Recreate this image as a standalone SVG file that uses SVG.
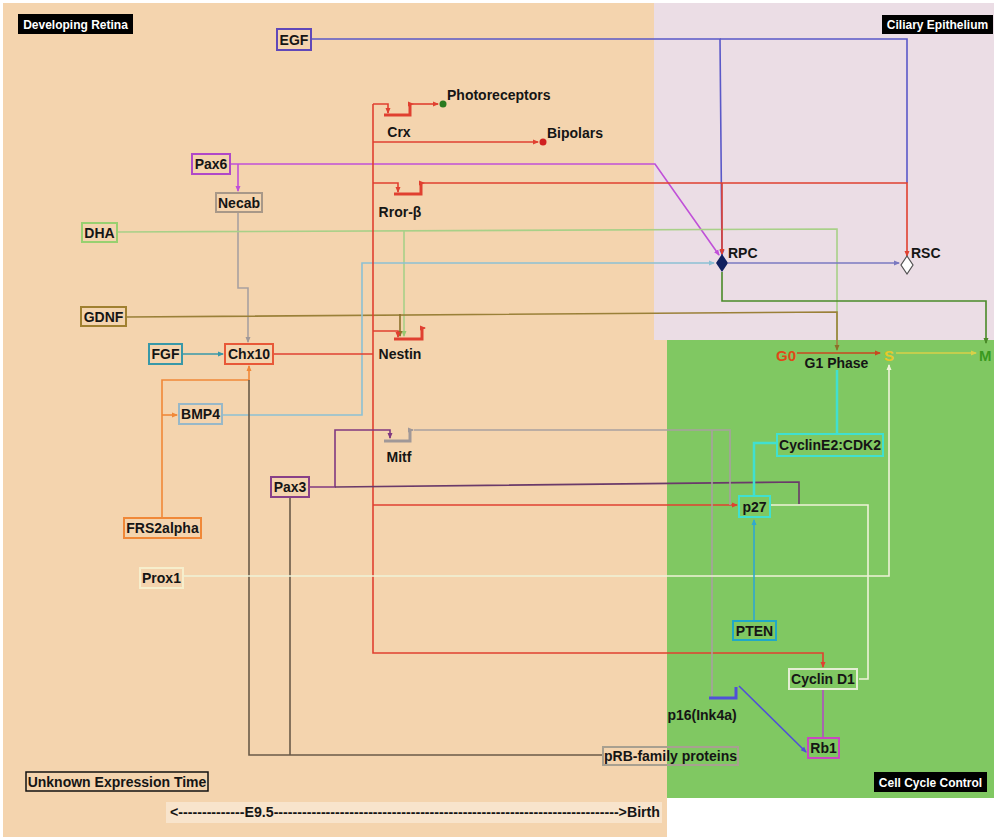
<svg xmlns="http://www.w3.org/2000/svg" width="994" height="839" viewBox="0 0 994 839">
<style>
text{font-family:"Liberation Sans",Arial,sans-serif;font-weight:bold}
.lbl{font-size:14px;fill:#151515;text-anchor:middle}
.lbl.st{text-anchor:start}
.node{fill:none;stroke-width:2}
.hdr{font-size:12px;fill:#fff;text-anchor:middle}
.ln{fill:none;stroke-width:1.6}
.bar{fill:none;stroke-width:3}
</style>
<defs>
<marker id="aRed" markerWidth="6" markerHeight="6" refX="5" refY="3" orient="auto" markerUnits="userSpaceOnUse"><path d="M0,0.5 L6,3 L0,5.5z" fill="#e04030"/></marker>
<marker id="aMag" markerWidth="6" markerHeight="6" refX="5" refY="3" orient="auto" markerUnits="userSpaceOnUse"><path d="M0,0.5 L6,3 L0,5.5z" fill="#c050d8"/></marker>
<marker id="aBlue" markerWidth="6" markerHeight="6" refX="5" refY="3" orient="auto" markerUnits="userSpaceOnUse"><path d="M0,0.5 L6,3 L0,5.5z" fill="#5a58c8"/></marker>
<marker id="aLblue" markerWidth="6" markerHeight="6" refX="5" refY="3" orient="auto" markerUnits="userSpaceOnUse"><path d="M0,0.5 L6,3 L0,5.5z" fill="#8cc0d4"/></marker>
<marker id="aTeal" markerWidth="6" markerHeight="6" refX="5" refY="3" orient="auto" markerUnits="userSpaceOnUse"><path d="M0,0.5 L6,3 L0,5.5z" fill="#3898a8"/></marker>
<marker id="aOr" markerWidth="6" markerHeight="6" refX="5" refY="3" orient="auto" markerUnits="userSpaceOnUse"><path d="M0,0.5 L6,3 L0,5.5z" fill="#f08838"/></marker>
<marker id="aGray" markerWidth="6" markerHeight="6" refX="5" refY="3" orient="auto" markerUnits="userSpaceOnUse"><path d="M0,0.5 L6,3 L0,5.5z" fill="#a09898"/></marker>
<marker id="aDg" markerWidth="6" markerHeight="6" refX="5" refY="3" orient="auto" markerUnits="userSpaceOnUse"><path d="M0,0.5 L6,3 L0,5.5z" fill="#4a8a28"/></marker>
<marker id="aYel" markerWidth="6" markerHeight="6" refX="5" refY="3" orient="auto" markerUnits="userSpaceOnUse"><path d="M0,0.5 L6,3 L0,5.5z" fill="#d8d048"/></marker>
<marker id="aRb" markerWidth="6" markerHeight="6" refX="5" refY="3" orient="auto" markerUnits="userSpaceOnUse"><path d="M0,0.5 L6,3 L0,5.5z" fill="#c84820"/></marker>
<marker id="aPale" markerWidth="6" markerHeight="6" refX="5" refY="3" orient="auto" markerUnits="userSpaceOnUse"><path d="M0,0.5 L6,3 L0,5.5z" fill="#eef2d8"/></marker>
<marker id="aCyan" markerWidth="6" markerHeight="6" refX="5" refY="3" orient="auto" markerUnits="userSpaceOnUse"><path d="M0,0.5 L6,3 L0,5.5z" fill="#30a8d0"/></marker>
<marker id="aOl" markerWidth="6" markerHeight="6" refX="5" refY="3" orient="auto" markerUnits="userSpaceOnUse"><path d="M0,0.5 L6,3 L0,5.5z" fill="#8a7028"/></marker>
<marker id="aLg" markerWidth="6" markerHeight="6" refX="5" refY="3" orient="auto" markerUnits="userSpaceOnUse"><path d="M0,0.5 L6,3 L0,5.5z" fill="#98c870"/></marker>
<marker id="aPur" markerWidth="6" markerHeight="6" refX="5" refY="3" orient="auto" markerUnits="userSpaceOnUse"><path d="M0,0.5 L6,3 L0,5.5z" fill="#803880"/></marker>
<marker id="aSl" markerWidth="6" markerHeight="6" refX="5" refY="3" orient="auto" markerUnits="userSpaceOnUse"><path d="M0,0.5 L6,3 L0,5.5z" fill="#7a78c0"/></marker>
<marker id="aP16" markerWidth="6" markerHeight="6" refX="5" refY="3" orient="auto" markerUnits="userSpaceOnUse"><path d="M0,0.5 L6,3 L0,5.5z" fill="#5050d8"/></marker>
</defs>

<g id="background">
<rect x="0" y="0" width="994" height="839" fill="#ffffff"/>
<rect x="3" y="3" width="664" height="834" fill="#f4d4ae"/>
<rect x="654" y="3" width="340" height="337" fill="#ebdde5"/>
<rect x="667" y="340" width="327" height="458" fill="#80c862"/>
</g>

<g id="region-labels">
<rect x="18" y="14" width="115" height="20" fill="#000"/>
<text class="hdr" x="75.5" y="28.5">Developing Retina</text>
<rect x="882" y="15" width="111" height="19" fill="#000"/>
<text class="hdr" x="937.5" y="29">Ciliary Epithelium</text>
<rect x="874" y="772" width="113" height="20" fill="#000"/>
<text class="hdr" x="930.5" y="786.5">Cell Cycle Control</text>
<rect x="26" y="772" width="182" height="19" fill="none" stroke="#111" stroke-width="1.5"/>
<text class="lbl" x="117" y="787">Unknown Expression Time</text>
<rect x="166" y="802" width="496" height="21" fill="#f8e4cc"/>
<text x="170" y="817" font-size="14" fill="#151515" textLength="490" lengthAdjust="spacingAndGlyphs">&lt;--------------E9.5-------------------------------------------------------------------------&gt;Birth</text>
</g>

<g id="connectors">
<path class="ln" stroke="#5a58c8" d="M311,39 H720 L722,255" marker-end="url(#aBlue)"/>
<path class="ln" stroke="#5a58c8" d="M720,39 H907 V183"/>
<path class="ln" stroke="#c050d8" d="M230,164 H655 L719,255" marker-end="url(#aMag)"/>
<path class="ln" stroke="#c050d8" d="M238,164 V191" marker-end="url(#aMag)"/>
<path class="ln" stroke="#a8a0a0" d="M238,212 V288 H248 V342" marker-end="url(#aGray)"/>
<path class="ln" stroke="#a8d088" d="M117,232 L837,229 V350" marker-end="url(#aLg)"/>
<path class="ln" stroke="#a8d088" d="M404,231 V336" marker-end="url(#aLg)"/>
<path class="ln" stroke="#9a8038" d="M126,317 L837,312 V350" marker-end="url(#aOl)"/>
<path class="ln" stroke="#8a7028" d="M400,314 V336" marker-end="url(#aOl)"/>
<path class="ln" stroke="#3898a8" d="M182,354 H223" marker-end="url(#aTeal)"/>
<path class="ln" stroke="#8cc0d4" d="M222,415 H362 V263 H714" marker-end="url(#aLblue)"/>
<path class="ln" stroke="#f08838" d="M162,518 V380 H249 V366" marker-end="url(#aOr)"/>
<path class="ln" stroke="#f08838" d="M162,415 H177" marker-end="url(#aOr)"/>
<path class="ln" stroke="#6a5a48" d="M249,380 V755 H603"/>
<path class="ln" stroke="#6a5a48" d="M290,497 V755"/>
<path class="ln" stroke="#e04030" d="M273,354 H373"/>
<path class="ln" stroke="#e04030" d="M373,104 V653 H823 V667" marker-end="url(#aRed)"/>
<path class="ln" stroke="#e04030" d="M373,104 H388 V113" marker-end="url(#aRed)"/>
<path class="ln" stroke="#e04030" d="M373,142 H538" marker-end="url(#aRed)"/>
<path class="ln" stroke="#e04030" d="M373,183 H398 V192" marker-end="url(#aRed)"/>
<path class="ln" stroke="#e04030" d="M373,331 H398 V337" marker-end="url(#aRed)"/>
<path class="ln" stroke="#e04030" d="M373,505 H737" marker-end="url(#aRed)"/>
<path class="ln" stroke="#e04030" d="M413,104 H438" marker-end="url(#aRed)"/>
<path class="ln" stroke="#e04030" d="M424,183 H907 V256" marker-end="url(#aRed)"/>
<path class="ln" stroke="#e04030" d="M722,183 V254" marker-end="url(#aRed)"/>
<path class="ln" stroke="#803880" d="M309,487 H335 V430 H390 V438" marker-end="url(#aPur)"/>
<path class="ln" stroke="#6a3a6a" d="M335,487 L799,482 V504"/>
<path class="ln" stroke="#a8a0a0" d="M414,430 H730 V505"/>
<path class="ln" stroke="#a8a0a0" d="M712,430 V696"/>
<path class="ln" stroke="#7a78c0" d="M728,263 H899" marker-end="url(#aSl)"/>
<path class="ln" stroke="#4a8a28" d="M722,272 V301 H986 V343" marker-end="url(#aDg)"/>
<path class="ln" stroke="#c84820" d="M797,353 H880" marker-end="url(#aRb)"/>
<path class="ln" stroke="#d8d048" d="M896,353 H976" marker-end="url(#aYel)"/>
<path class="ln" stroke="#eef2d8" d="M183,576 H889 V365" marker-end="url(#aPale)"/>
<path stroke="#40e0d0" stroke-width="2.5" fill="none" d="M837,434 V370"/>
<path stroke="#40e0d0" stroke-width="2.5" fill="none" d="M777,443 H754 V496"/>
<path class="ln" stroke="#30a8d0" d="M754,621 V520" marker-end="url(#aCyan)"/>
<path class="ln" stroke="#eef2d8" d="M770,505 H868 V679 H859"/>
<path class="ln" stroke="#b050c0" d="M823,689 V738"/>
<path class="ln" stroke="#5050d8" d="M739,686 L806,752" marker-end="url(#aP16)"/>
</g>

<g id="Crx">
<path class="bar" stroke="#e04030" d="M384,115 H410 V104"/>
<path stroke="#e04030" stroke-width="1.5" d="M410,104 H413" marker-end="url(#aRed)"/>
<text class="lbl" x="399" y="137">Crx</text>
</g>
<g id="Photoreceptors">
<circle cx="443" cy="104" r="3.5" fill="#2a7a20"/>
<text class="lbl st" x="447" y="100">Photoreceptors</text>
</g>
<g id="Bipolars">
<circle cx="543" cy="142" r="3.5" fill="#d02020"/>
<text class="lbl st" x="547" y="138">Bipolars</text>
</g>
<g id="Rror-beta">
<path class="bar" stroke="#e04030" d="M394,194 H421 V183"/>
<path stroke="#e04030" stroke-width="1.5" d="M421,183 H424" marker-end="url(#aRed)"/>
<text class="lbl" x="400" y="217">Rror-β</text>
</g>
<g id="Nestin">
<path class="bar" stroke="#e04030" d="M394,339 H422 V328"/>
<path stroke="#e04030" stroke-width="1.5" d="M422,328 H425" marker-end="url(#aRed)"/>
<text class="lbl" x="400" y="359">Nestin</text>
</g>
<g id="Mitf">
<path class="bar" stroke="#a09898" stroke-width="2" d="M384,441 H410 V430"/>
<path stroke="#a09898" stroke-width="1.5" d="M410,430 H413" marker-end="url(#aGray)"/>
<text class="lbl" x="399" y="462">Mitf</text>
</g>
<g id="p16">
<path class="bar" stroke="#5050d8" d="M709,698 H736 V687"/>
<text class="lbl" x="702" y="720">p16(Ink4a)</text>
</g>

<g id="EGF"><rect class="node" x="277" y="29" width="34" height="21" stroke="#6048b8"/><text class="lbl" x="294" y="45">EGF</text></g>
<g id="Pax6"><rect class="node" x="192" y="154" width="38" height="20" stroke="#b048c8"/><text class="lbl" x="211" y="169">Pax6</text></g>
<g id="Necab"><rect class="node" x="216" y="193" width="46" height="19" stroke="#a89888"/><text class="lbl" x="239" y="208">Necab</text></g>
<g id="DHA"><rect class="node" x="82" y="223" width="35" height="19" stroke="#98d070"/><text class="lbl" x="99.5" y="238">DHA</text></g>
<g id="GDNF"><rect class="node" x="81" y="307" width="45" height="19" stroke="#a08030"/><text class="lbl" x="103.5" y="322">GDNF</text></g>
<g id="FGF"><rect class="node" x="149" y="344" width="33" height="20" stroke="#3898a8"/><text class="lbl" x="165.5" y="359">FGF</text></g>
<g id="Chx10"><rect class="node" x="225" y="344" width="48" height="20" stroke="#e85838"/><text class="lbl" x="249" y="359">Chx10</text></g>
<g id="BMP4"><rect class="node" x="179" y="404" width="43" height="20" stroke="#98b8c8"/><text class="lbl" x="200.5" y="419">BMP4</text></g>
<g id="Pax3"><rect class="node" x="271" y="477" width="38" height="20" stroke="#884088"/><text class="lbl" x="290" y="492">Pax3</text></g>
<g id="FRS2alpha"><rect class="node" x="124" y="518" width="77" height="20" stroke="#f08838"/><text class="lbl" x="162.5" y="533">FRS2alpha</text></g>
<g id="Prox1"><rect class="node" x="140" y="568" width="43" height="20" stroke="#f6eecc" fill="#f8e6c4"/><text class="lbl" x="161.5" y="583">Prox1</text></g>
<g id="pRB"><rect class="node" x="603" y="747" width="135" height="18" stroke="#a8a090"/><text class="lbl" x="670.5" y="761">pRB-family proteins</text></g>
<g id="RPC"><polygon points="722,254 728,263 722,272 716,263" fill="#102060"/><text class="lbl st" x="728" y="258">RPC</text></g>
<g id="RSC"><polygon points="907,256 913,265 907,274 901,265" fill="#fff" stroke="#505050" stroke-width="1.2"/><text class="lbl st" x="911" y="258">RSC</text></g>
<g id="G0"><text x="776" y="361" font-size="15" fill="#e04818">G0</text></g>
<g id="G1"><text class="lbl" x="836.5" y="368">G1 Phase</text></g>
<g id="S"><text x="884" y="361" font-size="15" fill="#e8c828">S</text></g>
<g id="M"><text x="979" y="361" font-size="15" fill="#3a9a20">M</text></g>
<g id="CyclinE2"><rect class="node" x="777" y="434" width="106" height="22" stroke="#40e0d0" stroke-width="3"/><text class="lbl" x="830" y="450">CyclinE2:CDK2</text></g>
<g id="p27"><rect class="node" x="739" y="496" width="31" height="21" stroke="#40e0d0" stroke-width="3"/><text class="lbl" x="754.5" y="512">p27</text></g>
<g id="PTEN"><rect class="node" x="733" y="621" width="43" height="19" stroke="#20a8c8"/><text class="lbl" x="754.5" y="636">PTEN</text></g>
<g id="CyclinD1"><rect class="node" x="789" y="669" width="68" height="20" stroke="#e4eed4"/><text class="lbl" x="823" y="684">Cyclin D1</text></g>
<g id="Rb1"><rect class="node" x="808" y="738" width="31" height="20" stroke="#c848c0"/><text class="lbl" x="823.5" y="753">Rb1</text></g>
</svg>
